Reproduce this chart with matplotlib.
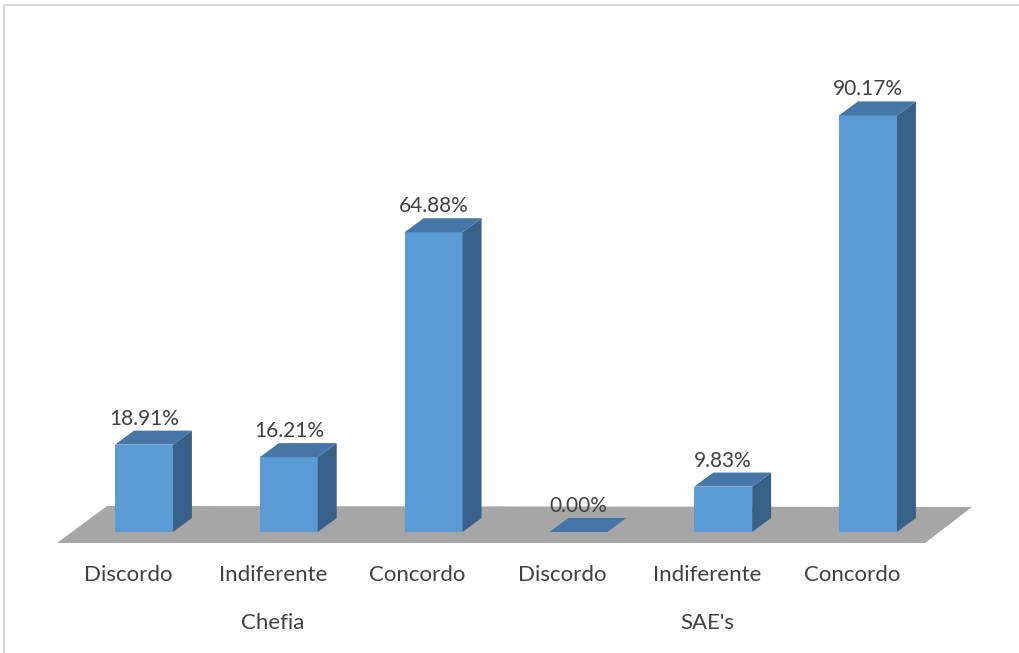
import matplotlib
matplotlib.use('Agg')
import matplotlib.pyplot as plt
from matplotlib.patches import Polygon, Rectangle

plt.rcParams['font.family'] = ['Lato', 'DejaVu Sans']

categories = ['Discordo', 'Indiferente', 'Concordo',
              'Discordo', 'Indiferente', 'Concordo']
groups = ['Chefia', "SAE's"]
values = [18.91, 16.21, 64.88, 0.00, 9.83, 90.17]

FRONT = '#5B9BD5'
TOP = '#4576A6'
SIDE = '#38618A'
FLOOR = '#A6A6A6'
TXT = '#404040'

W, H = 1019, 653
fig = plt.figure(figsize=(W / 100, H / 100), dpi=100)

# outer frame
fig.patches.append(Rectangle((4 / W, -0.1), 1.2, (H - 5) / H + 0.1,
                             transform=fig.transFigure, fill=False,
                             edgecolor='#D9D9D9', lw=1.5))

ax = fig.add_axes([0, 0, 1, 1])
ax.set_xlim(-0.9945, 6.0428)
ax.set_ylim(-26.19, 115.15)
ax.axis('off')

bw = 0.40          # bar width
dx, dy = 0.131, 3.03   # depth offset

# floor
floor = [(-0.601, -2.38), (5.394, -2.38), (5.718, 5.41), (-0.2555, 5.63)]
ax.add_patch(Polygon(floor, closed=True, facecolor=FLOOR, edgecolor='none', zorder=1))

for i, v in enumerate(values):
    x0, x1 = i - bw / 2, i + bw / 2
    if v > 0:
        ax.add_patch(Rectangle((x0, 0), bw, v, facecolor=FRONT, edgecolor='none', zorder=3))
        ax.add_patch(Polygon([(x1, 0), (x1 + dx, dy), (x1 + dx, v + dy), (x1, v)],
                             facecolor=SIDE, edgecolor='none', zorder=3))
    ax.add_patch(Polygon([(x0, v), (x1, v), (x1 + dx, v + dy), (x0 + dx, v + dy)],
                         facecolor=TOP, edgecolor='none', zorder=3))
    ax.annotate(f'{v:.2f}%', (i, v + dy), xytext=(0, 1.5), textcoords='offset points',
                ha='center', va='bottom', fontsize=15, color=TXT)
    ax.text(i - 0.11, -9.2, categories[i], ha='center', va='center',
            fontsize=16, color=TXT)

for g, name in enumerate(groups):
    ax.text(3 * g + 1 - 0.11, -19.6, name, ha='center', va='center',
            fontsize=16, color=TXT)

plt.savefig('out.png', dpi=100)
